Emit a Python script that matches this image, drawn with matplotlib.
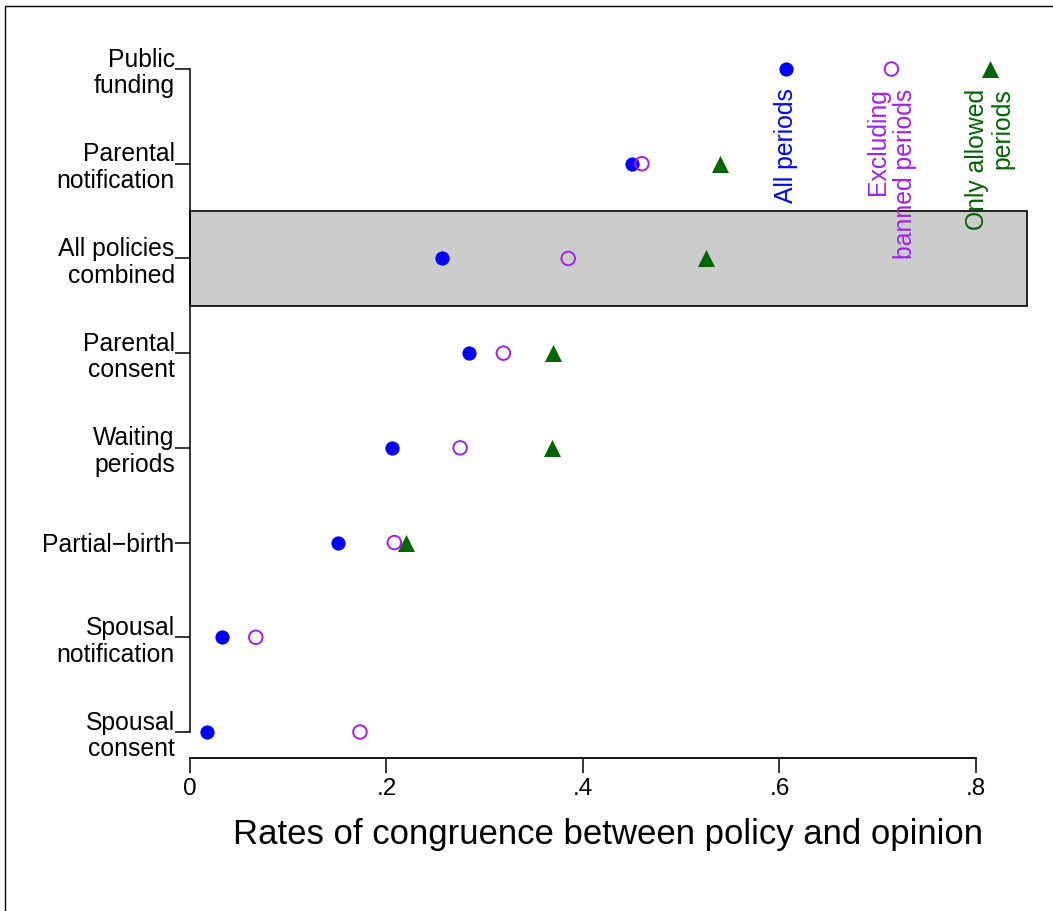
import matplotlib
matplotlib.use("Agg")
import matplotlib.pyplot as plt
from matplotlib.patches import Rectangle

plt.rcParams['font.family'] = ['Liberation Sans', 'DejaVu Sans']

# policies, top to bottom
policies = ["Public\nfunding", "Parental\nnotification", "All policies\ncombined",
            "Parental\nconsent", "Waiting\nperiods", "Partial\u2212birth",
            "Spousal\nnotification", "Spousal\nconsent"]
# congruence rates (None = not shown)
all_periods = [None, 0.450, 0.257, 0.284, 0.206, 0.151, 0.033, 0.017]
excl_banned = [None, 0.460, 0.385, 0.319, 0.275, 0.208, 0.067, 0.173]
only_allowed = [None, 0.539, 0.525, 0.370, 0.368, 0.220, None, None]

# legend entries placed in the top row
legend_x = [0.607, 0.714, 0.814]
legend_labels = ["All periods", "Excluding\nbanned periods", "Only allowed\nperiods"]

BLUE = "#0000FF"
PURPLE = "#A020F0"
GREEN = "#006400"

fig = plt.figure(figsize=(10.53, 9.11), dpi=100)
ax = fig.add_axes([190 / 1053, 1 - 758 / 911, 837 / 1053, 738 / 911])

rows = list(range(1, len(policies) + 1))

def pts(vals):
    xs = [v for v in vals if v is not None]
    ys = [r for r, v in zip(rows, vals) if v is not None]
    return xs, ys

# highlighted "All policies combined" row
ax.add_patch(Rectangle((0, 2.5), 0.852, 1.0, facecolor="#CCCCCC",
                       edgecolor="black", linewidth=1.2, zorder=1, clip_on=False))

x, y = pts(all_periods)
ax.scatter(x, y, s=105, color=BLUE, marker="o", zorder=3, linewidths=0)
x, y = pts(excl_banned)
ax.scatter(x, y, s=95, facecolors="none", edgecolors=PURPLE, marker="o", linewidths=1.4, zorder=3)
x, y = pts(only_allowed)
ax.scatter(x, y, s=150, color=GREEN, marker="^", zorder=3, linewidths=0)

# legend markers + rotated labels
ax.scatter([legend_x[0]], [1], s=105, color=BLUE, marker="o", linewidths=0, zorder=3)
ax.scatter([legend_x[1]], [1], s=95, facecolors="none", edgecolors=PURPLE, linewidths=1.4, zorder=3)
ax.scatter([legend_x[2]], [1], s=150, color=GREEN, marker="^", linewidths=0, zorder=3)
for lx, lab, c in zip(legend_x, legend_labels, [BLUE, PURPLE, GREEN]):
    ax.annotate(lab, (lx, 1), xytext=(0, -14), textcoords="offset points",
                rotation=90, ha="center", va="top", multialignment="right",
                color=c, fontsize=17.8, linespacing=1.12, zorder=4)

ax.set_xlim(0, 0.852)
ax.set_ylim(8.2745, 0.4826)
ax.set_yticks(rows)
ax.set_yticklabels(policies, fontsize=17.8, linespacing=1.15)
ax.set_xticks([0, 0.2, 0.4, 0.6, 0.8])
ax.set_xticklabels(["0", ".2", ".4", ".6", ".8"], fontsize=17.5)
ax.tick_params(axis="y", length=10.5, width=1.1, pad=0.5)
ax.tick_params(axis="x", length=10.5, width=1.1, pad=4)
ax.set_xlabel("Rates of congruence between policy and opinion", fontsize=25, labelpad=13)

ax.spines["top"].set_visible(False)
ax.spines["right"].set_visible(False)
ax.spines["left"].set_bounds(1, 8)
ax.spines["bottom"].set_bounds(0, 0.8)
ax.spines["left"].set_linewidth(1.1)
ax.spines["bottom"].set_linewidth(1.3)

# outer frame of the graph region
fig.patches.append(Rectangle((5 / 1053, -0.05), 1.2, 1 - 6 / 911 + 0.05, transform=fig.transFigure,
                             fill=False, edgecolor="black", linewidth=1.0))

fig.savefig("out.png", dpi=100)
